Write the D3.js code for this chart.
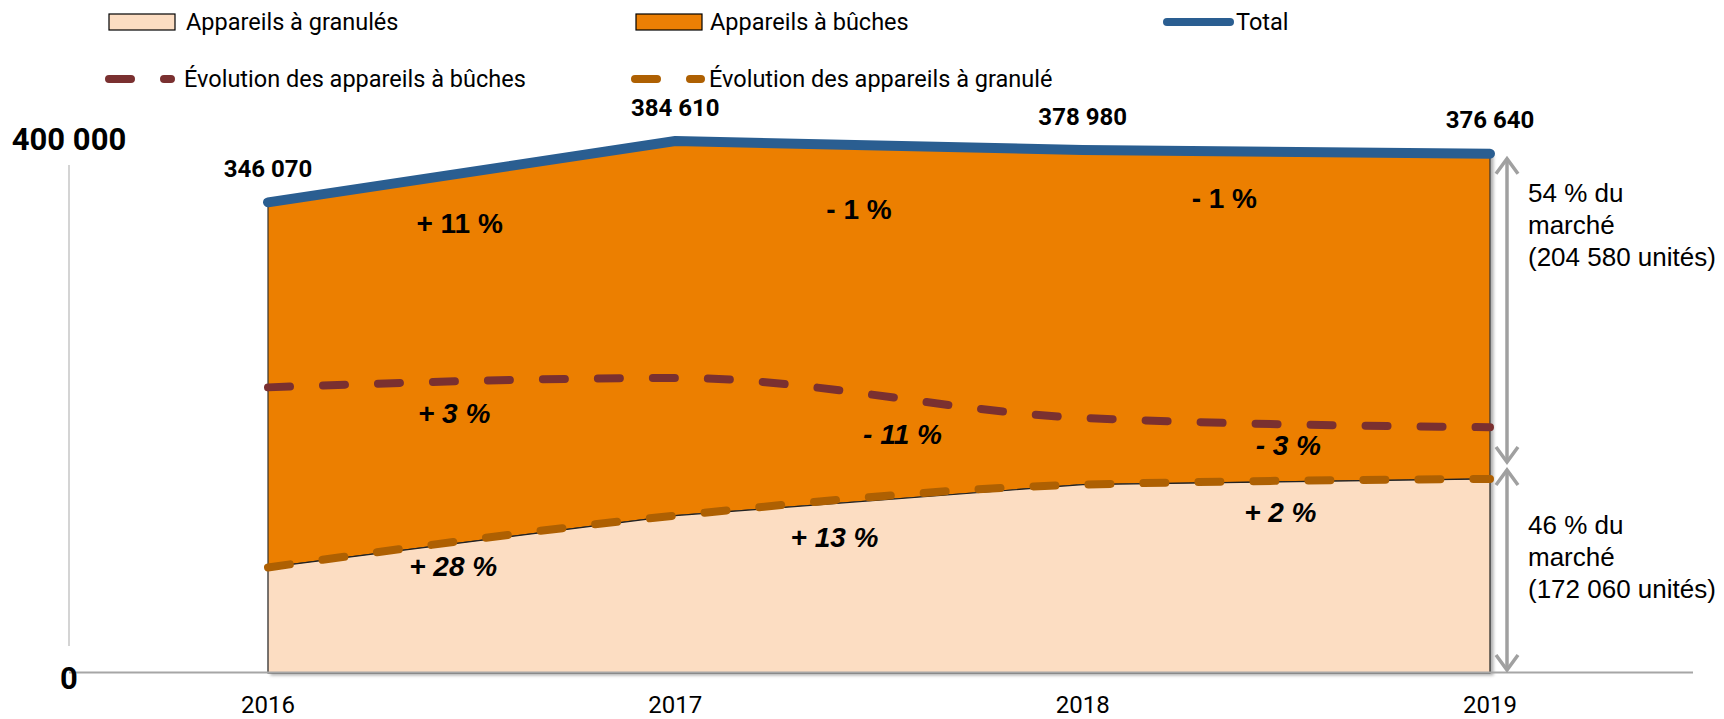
<!DOCTYPE html>
<html>
<head>
<meta charset="utf-8">
<script src="https://cdn.jsdelivr.net/npm/d3@7"></script>
<style>
  html, body { margin: 0; padding: 0; background: #fff; }
  svg { display: block; }
</style>
</head>
<body>
<svg id="chart" width="1724" height="719"></svg>
<script>
// ---------- DATA ----------
const years = ["2016", "2017", "2018", "2019"];
const granules = [116400, 149000, 168500, 172060];
const buches = [229670, 235610, 210480, 204580];
const totals = [346070, 384610, 378980, 376640];
const totalLabels = ["346 070", "384 610", "378 980", "376 640"];
const totalChange = ["+ 11 %", "- 1 %", "- 1 %"];
const buchesChange = ["+ 3 %", "- 11 %", "- 3 %"];
const granulesChange = ["+ 28 %", "+ 13 %", "+ 2 %"];
const yTickValues = [50000, 400000];
const yTickLabels = ["0", "400 000"];
const shareBuches = ["54 % du", "marché", "(204 580 unités)"];
const shareGranules = ["46 % du", "marché", "(172 060 unités)"];
const legendNames = ["Appareils à granulés", "Appareils à bûches", "Total",
                     "Évolution des appareils à bûches", "Évolution des appareils à granulé"];

// ---------- STYLE ----------
const C = {
  peach: "#FCDDC2", orange: "#EC7F04", blue: "#2A5E91",
  buchesLine: "#7A3030", granLine: "#AE6002", axis: "#A6A6A6", arrow: "#A0A0A0"
};
const FC = "Roboto, 'Open Sans', sans-serif";            // Calibri-like
const FA = "'Liberation Sans', Arial, sans-serif";        // Arial-like

const svg = d3.select("#chart");
const x = d3.scalePoint().domain(years).range([268, 1490]);
const y = d3.scaleLinear().domain([50000, 400000]).range([673, 116.6]);
const baseY = y(yTickValues[0]);

const rows = years.map((yr, i) => ({ yr, g: granules[i], b: buches[i], t: totals[i] }));

// shadow filter
const defs = svg.append("defs");
const f = defs.append("filter").attr("id", "sh").attr("x", "-5%").attr("y", "-5%").attr("width", "110%").attr("height", "110%");
f.append("feDropShadow").attr("dx", 3).attr("dy", 2).attr("stdDeviation", 1.8)
  .attr("flood-color", "#000").attr("flood-opacity", 0.3);

// left light axis line
svg.append("line").attr("x1", 69).attr("x2", 69).attr("y1", 165).attr("y2", 646)
  .attr("stroke", "#D4D4D4").attr("stroke-width", 2);

// ---------- AREAS ----------
const gArea = svg.append("g").attr("filter", "url(#sh)");
const areaB = d3.area().x(d => x(d.yr)).y0(d => y(d.g)).y1(d => y(d.g + d.b));
const areaG = d3.area().x(d => x(d.yr)).y0(baseY).y1(d => y(d.g));
gArea.append("path").datum(rows).attr("d", areaB).attr("fill", C.orange)
  .attr("stroke", "#333").attr("stroke-width", 1.2);
gArea.append("path").datum(rows).attr("d", areaG).attr("fill", C.peach)
  .attr("stroke", "#222").attr("stroke-width", 1.2);

// x axis baseline
svg.append("line").attr("x1", 69).attr("x2", 1693).attr("y1", baseY - 0.5).attr("y2", baseY - 0.5)
  .attr("stroke", C.axis).attr("stroke-width", 2.2);

// ---------- DASHED EVOLUTION LINES ----------
const dash = "22 33";
const lineB = d3.line().x(d => x(d.yr)).y(d => y(d.b)).curve(d3.curveMonotoneX);
const lineG = d3.line().x(d => x(d.yr)).y(d => y(d.g)).curve(d3.curveMonotoneX);
svg.append("path").datum(rows).attr("d", lineB).attr("fill", "none")
  .attr("stroke", C.buchesLine).attr("stroke-width", 8).attr("stroke-linecap", "round")
  .attr("stroke-dasharray", dash);
svg.append("path").datum(rows).attr("d", lineG).attr("fill", "none")
  .attr("stroke", C.granLine).attr("stroke-width", 8).attr("stroke-linecap", "round")
  .attr("stroke-dasharray", dash);

// ---------- TOTAL LINE ----------
const lineT = d3.line().x(d => x(d.yr)).y(d => y(d.t));
svg.append("path").datum(rows).attr("d", lineT).attr("fill", "none")
  .attr("stroke", C.blue).attr("stroke-width", 10).attr("stroke-linecap", "round")
  .attr("stroke-linejoin", "round");

// total value labels
svg.selectAll(".tl").data(rows).enter().append("text")
  .attr("x", d => x(d.yr)).attr("y", (d) => y(d.t) - 34).attr("dy", "0.36em")
  .attr("text-anchor", "middle").attr("font-family", FC).attr("font-weight", "bold")
  .attr("font-size", 24).attr("fill", "#000")
  .text((d, i) => totalLabels[i]);

// ---------- CHANGE LABELS ----------
function mid(i, key) {
  return { mx: (x(years[i]) + x(years[i + 1])) / 2, my: y((rows[i][key] + rows[i + 1][key]) / 2) };
}
const totNudge = [[-12, 51.5], [-20, 63.5], [-62, 46]];
const bNudge = [[-17.5, 30], [23.5, 36], [2, 22.4]];
const gNudge = [[-18.5, 24.5], [-44.5, 37], [-6, 30]];
function changeLabels(labels, key, nudge, italic) {
  labels.forEach((lab, i) => {
    const m = mid(i, key);
    svg.append("text").attr("x", m.mx + nudge[i][0]).attr("y", m.my + nudge[i][1]).attr("dy", "0.36em")
      .attr("text-anchor", "middle").attr("font-family", FA).attr("font-weight", "bold")
      .attr("font-style", italic ? "italic" : "normal").attr("font-size", 28).attr("fill", "#000")
      .text(lab);
  });
}
changeLabels(totalChange, "t", totNudge, false);
changeLabels(buchesChange, "b", bNudge, true);
changeLabels(granulesChange, "g", gNudge, true);

// ---------- AXIS LABELS ----------
svg.selectAll(".yr").data(years).enter().append("text")
  .attr("x", d => x(d)).attr("y", 704).attr("dy", "0.36em").attr("text-anchor", "middle")
  .attr("font-family", FC).attr("font-size", 24).attr("fill", "#000").text(d => d);

const yOffsets = [5, 22];
yTickValues.forEach((v, i) => {
  svg.append("text").attr("x", 69).attr("y", y(v) + yOffsets[i]).attr("dy", "0.36em")
    .attr("text-anchor", "middle").attr("font-family", FC).attr("font-weight", "bold")
    .attr("font-size", 31).attr("fill", "#000").text(yTickLabels[i]);
});

// ---------- SHARE ARROWS ----------
const ax = 1507;
const last = rows[rows.length - 1];
function dblArrow(y1, y2) {
  const g = svg.append("g").attr("stroke", C.arrow).attr("stroke-width", 3.5).attr("fill", "none")
    .attr("stroke-linecap", "butt").attr("stroke-linejoin", "miter");
  g.append("line").attr("x1", ax).attr("x2", ax).attr("y1", y1 + 1).attr("y2", y2 - 1);
  g.append("path").attr("d", `M${ax - 11},${y1 + 16}L${ax},${y1 + 1}L${ax + 11},${y1 + 16}`);
  g.append("path").attr("d", `M${ax - 11},${y2 - 16}L${ax},${y2 - 1}L${ax + 11},${y2 - 16}`);
}
dblArrow(y(last.t) + 4, y(last.g) - 16);
dblArrow(y(last.g) - 10, baseY - 2);

function shareText(lines, y0) {
  lines.forEach((s, i) => {
    svg.append("text").attr("x", 1528).attr("y", y0 + i * 32).attr("dy", "0.36em")
      .attr("font-family", FA).attr("font-size", 26).attr("fill", "#000").text(s);
  });
}
shareText(shareBuches, 193);
shareText(shareGranules, 525);

// ---------- LEGEND ----------
const lg = svg.append("g");
const r1 = 22, r2 = 79;
lg.append("rect").attr("x", 109).attr("y", 14).attr("width", 66).attr("height", 16)
  .attr("fill", C.peach).attr("stroke", "#000").attr("stroke-width", 1.2);
lg.append("rect").attr("x", 636).attr("y", 14).attr("width", 66).attr("height", 16)
  .attr("fill", C.orange).attr("stroke", "#000").attr("stroke-width", 1.2);
lg.append("line").attr("x1", 1167).attr("x2", 1230).attr("y1", r1).attr("y2", r1)
  .attr("stroke", C.blue).attr("stroke-width", 8).attr("stroke-linecap", "round");
lg.append("line").attr("x1", 109).attr("x2", 171).attr("y1", r2).attr("y2", r2)
  .attr("stroke", C.buchesLine).attr("stroke-width", 8).attr("stroke-linecap", "round").attr("stroke-dasharray", dash);
lg.append("line").attr("x1", 635).attr("x2", 701).attr("y1", r2).attr("y2", r2)
  .attr("stroke", C.granLine).attr("stroke-width", 8).attr("stroke-linecap", "round").attr("stroke-dasharray", dash);
const legPos = [[186, r1], [710, r1], [1236, r1], [184, r2], [709, r2]];
legendNames.forEach((n, i) => {
  lg.append("text").attr("x", legPos[i][0]).attr("y", legPos[i][1]).attr("dy", "0.36em")
    .attr("font-family", FC).attr("font-size", 23.5).attr("fill", "#000").text(n);
});
</script>
</body>
</html>
